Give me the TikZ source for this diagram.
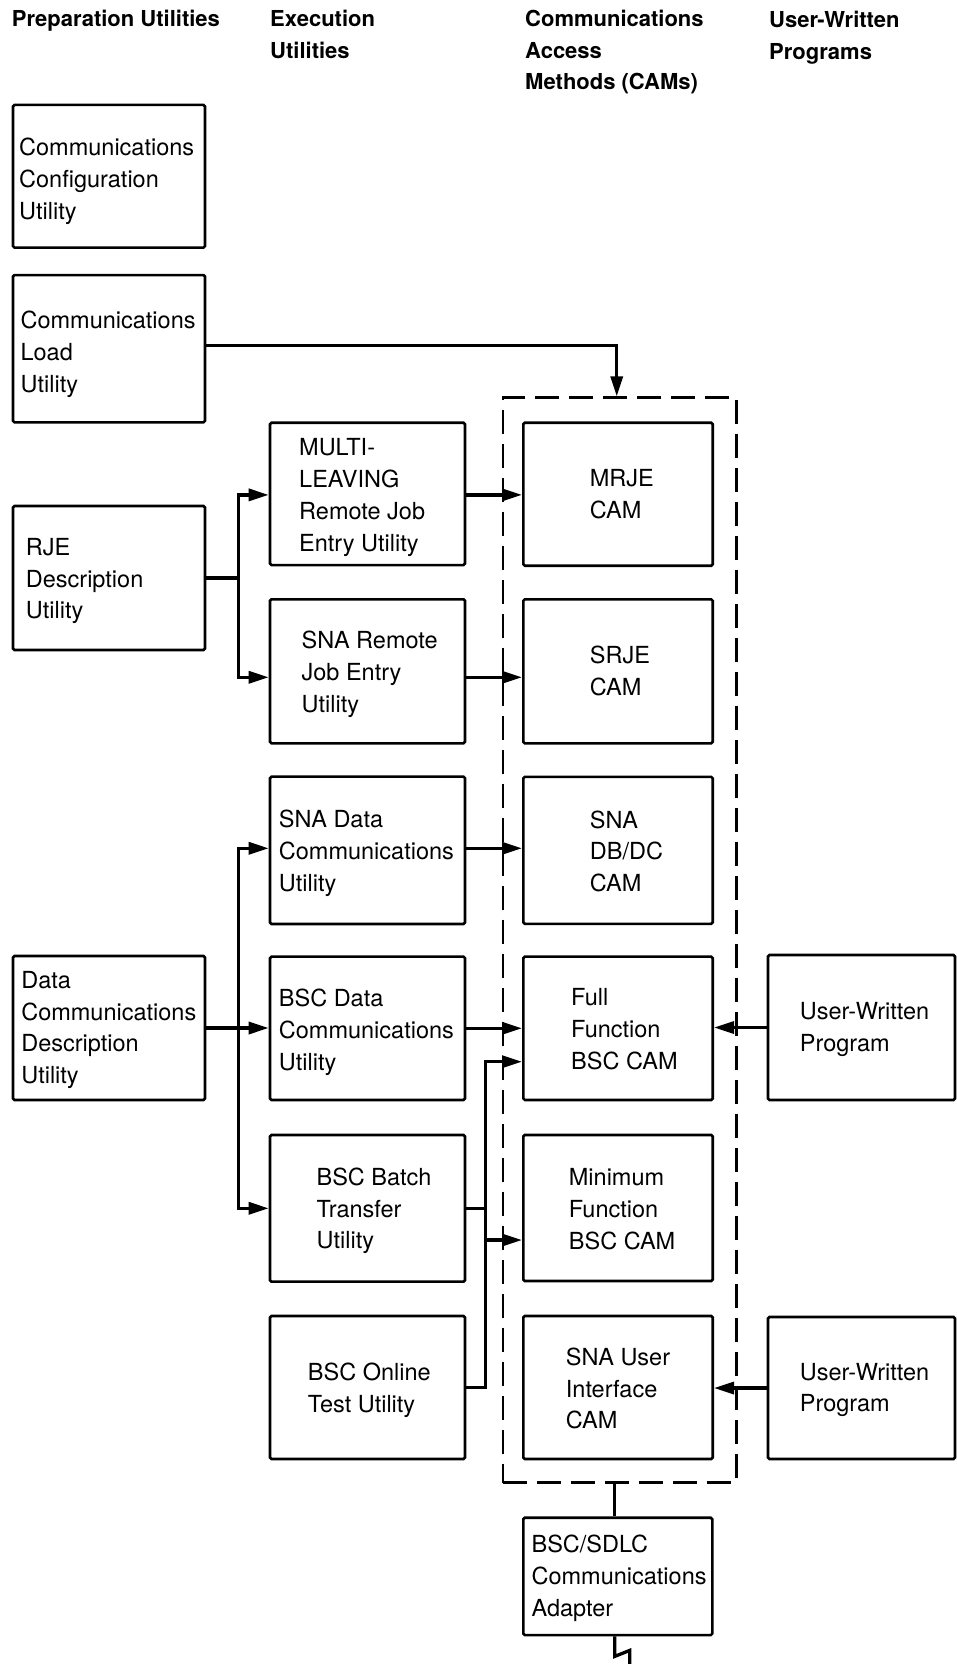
\documentclass[tikz,border=0pt]{standalone}
\usepackage{fontspec}
\setmainfont{TeX Gyre Heros}
\usetikzlibrary{arrows.meta,calc}
\begin{document}
\begin{tikzpicture}[x=1pt,y=-1pt,
  box/.style={draw, line width=2.6pt, rounded corners=1.5pt, inner sep=0pt},
  lcol/.style={box, minimum width=192pt},
  mcol/.style={box, minimum width=195pt},
  ccol/.style={box, minimum width=189.4pt},
  ucol/.style={box, minimum width=187pt},
  camsbox/.style={draw, line width=2.6pt, dash pattern=on 24pt off 10pt, inner sep=0pt, minimum width=233.5pt, minimum height=1085pt},
  txt/.style={anchor=west, align=left, inner sep=0pt, font=\fontsize{23.5}{31.8}\selectfont},
  hdr/.style={anchor=north west, align=left, inner sep=0pt, font=\fontsize{22}{31.7}\selectfont\bfseries},
  conn/.style={line width=3.3pt},
  arr/.style={conn, -{Triangle[length=20pt,width=12pt]}}
]
\useasboundingbox (0,0) rectangle (957,1664);

% headers
\node[hdr] (h1) at (11.7,10) {Preparation Utilities};
\node[hdr] (h2) at (270,10) {Execution\\Utilities};
\node[hdr] (h3) at (525,10) {Communications\\Access\\Methods (CAMs)};
\node[hdr] (h4) at (769,11) {User-Written\\Programs};

% dashed CAM frame
\node[camsbox] (cams) at (619.75,940.2) {};

% left column
\node[lcol, minimum height=142.7pt] (cfg) at (109,176.3) {};
\node[lcol, minimum height=147.3pt] (load) at (109,348.7) {};
\node[lcol, minimum height=144pt] (rje) at (109,578) {};
\node[lcol, minimum height=144pt] (dcd) at (109,1028) {};

% middle column
\node[mcol, minimum height=142.3pt] (multi) at (367.5,493.9) {};
\node[mcol, minimum height=144pt] (snarje) at (367.5,671.3) {};
\node[mcol, minimum height=147.3pt] (snadc) at (367.5,850.3) {};
\node[mcol, minimum height=143.3pt] (bscdc) at (367.5,1028.3) {};
\node[mcol, minimum height=146.7pt] (batch) at (367.5,1208.3) {};
\node[mcol, minimum height=143pt] (online) at (367.5,1387.5) {};

% CAM column
\node[ccol, minimum height=143pt] (mrje) at (618,494.2) {};
\node[ccol, minimum height=144pt] (srje) at (618,671.3) {};
\node[ccol, minimum height=147pt] (dbdc) at (618,850.3) {};
\node[ccol, minimum height=143.3pt] (ff) at (618,1028.3) {};
\node[ccol, minimum height=146pt] (minf) at (618,1208) {};
\node[ccol, minimum height=143pt] (snaui) at (618,1387.5) {};

% user programs
\node[ucol, minimum height=145pt] (uw1) at (861.5,1027.5) {};
\node[ucol, minimum height=142pt] (uw2) at (861.5,1388) {};

% adapter
\node[box, minimum width=189pt, minimum height=117.3pt] (ad) at (617.8,1576.4) {};

% texts
\node[txt] (cfgT) at ([shift={(7.3pt,-5pt)}]cfg.west) {Communications\\Configuration\\Utility};
\node[txt] (loadT) at ([shift={(8.7pt,-5.5pt)}]load.west) {Communications\\Load\\Utility};
\node[txt] (rjeT) at ([shift={(14pt,-3pt)}]rje.west) {RJE\\Description\\Utility};
\node[txt] (dcdT) at ([shift={(9.4pt,-2pt)}]dcd.west) {Data\\Communications\\Description\\Utility};
\node[txt] (multiT) at ([shift={(30.3pt,-3.5pt)}]multi.west) {MULTI-\\LEAVING\\Remote Job\\Entry Utility};
\node[txt] (snarjeT) at ([shift={(32.7pt,-3pt)}]snarje.west) {SNA Remote\\Job Entry\\Utility};
\node[txt] (snadcT) at ([shift={(10pt,-3pt)}]snadc.west) {SNA Data\\Communications\\Utility};
\node[txt] (bscdcT) at ([shift={(10pt,-4pt)}]bscdc.west) {BSC Data\\Communications\\Utility};
\node[txt] (batchT) at ([shift={(47.7pt,-2.5pt)}]batch.west) {BSC Batch\\Transfer\\Utility};
\node[txt] (onlineT) at ([shift={(39pt,-3pt)}]online.west) {BSC Online\\Test Utility};
\node[txt] (mrjeT) at ([shift={(67.7pt,0pt)}]mrje.west) {MRJE\\CAM};
\node[txt] (srjeT) at ([shift={(67.7pt,0pt)}]srje.west) {SRJE\\CAM};
\node[txt] (dbdcT) at ([shift={(67.7pt,-1pt)}]dbdc.west) {SNA\\DB/DC\\CAM};
\node[txt] (ffT) at ([shift={(49pt,-1pt)}]ff.west) {Full\\Function\\BSC CAM};
\node[txt] (minfT) at ([shift={(46.7pt,-1pt)}]minf.west) {Minimum\\Function\\BSC CAM};
\node[txt] (snauiT) at ([shift={(43.7pt,-1pt)}]snaui.west) {SNA User\\Interface\\CAM};
\node[txt] (uw1T) at ([shift={(33pt,-2pt)}]uw1.west) {User-Written\\Program};
\node[txt] (uw2T) at ([shift={(33pt,-2pt)}]uw2.west) {User-Written\\Program};
\node[txt] (adT) at ([shift={(9.4pt,-1.6pt)}]ad.west) {BSC/SDLC\\Communications\\Adapter};

% connectors
\draw[arr] ([yshift=3pt]load.east) -| ([xshift=-3pt]cams.north);

\coordinate (rjeJ) at (238.5,578);
\draw[conn] (rje.east) -- (rjeJ);
\draw[arr] (rjeJ) |- ([yshift=-1pt]multi.west);
\draw[arr] (rjeJ) |- ([yshift=-6pt]snarje.west);
\draw[arr] ([yshift=-1pt]multi.east) -- ([yshift=-1pt]multi.east -| mrje.west);
\draw[arr] ([yshift=-6pt]snarje.east) -- ([yshift=-6pt]snarje.east -| srje.west);
\draw[arr] ([yshift=2pt]snadc.east) -- ([yshift=2pt]snadc.east -| dbdc.west);

\coordinate (dcJ) at (238.5,1028);
\draw[arr] (dcd.east) -- (dcd.east -| bscdc.west);
\draw[arr] (dcJ) |- ([yshift=2pt]snadc.west);
\draw[arr] (dcJ) |- (batch.west);
\draw[arr] (bscdc.east) -- (bscdc.east -| ff.west);
\draw[arr] (uw1.west) -- (uw1.west -| ff.east);

\coordinate (bJ) at (485.5,1208.3);
\coordinate (bTop) at (485.5,1061.7);
\coordinate (bMin) at (485.5,1240);
\draw[conn] (batch.east) -- (bJ);
\draw[arr] (online.east) -| (bTop) -- (bTop -| ff.west);
\draw[arr] (bMin) -- (bMin -| minf.west);
\draw[arr] (uw2.west) -- (uw2.west -| snaui.east);

\draw[conn] ([xshift=-3pt]ad.north) -- ([xshift=-3pt]ad.north |- cams.south);
\draw[conn] ([xshift=-3pt]ad.south) -- ++(0,20) -- ++(15,-6) -- ++(0,16);
\end{tikzpicture}
\end{document}
